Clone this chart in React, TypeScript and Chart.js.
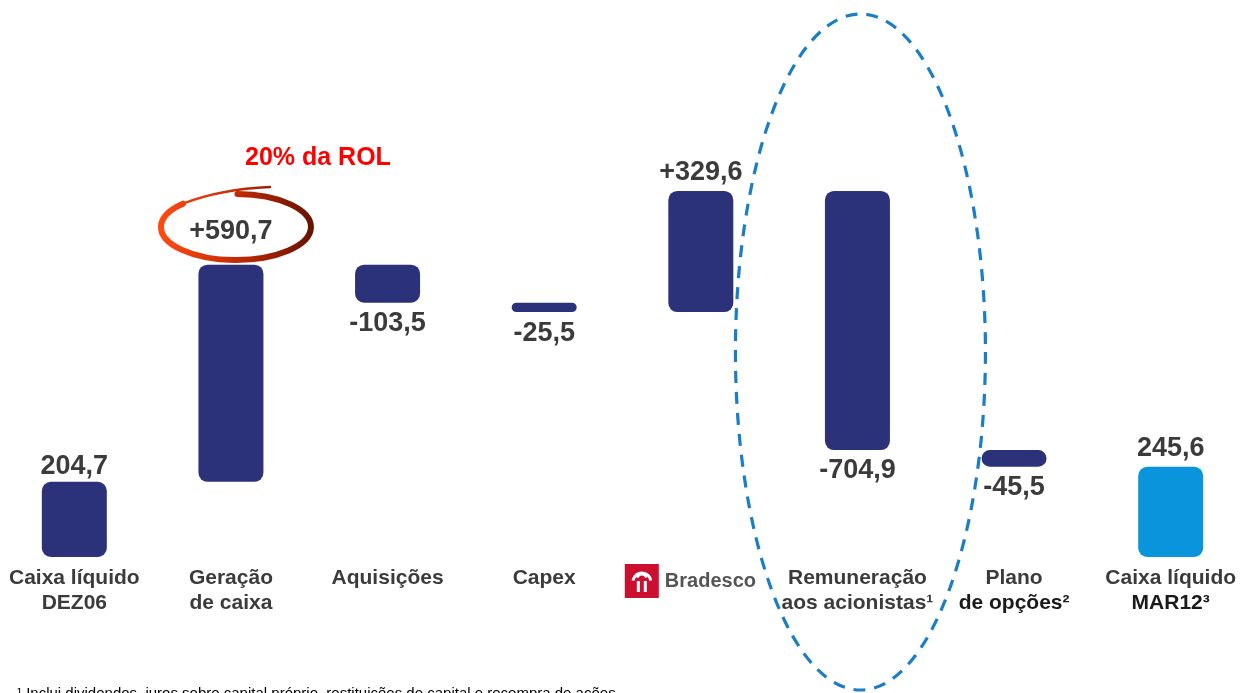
import React, { useEffect, useRef } from 'react';
import { Chart, registerables } from 'chart.js';

Chart.register(...registerables);

// ---- data ----
const categories = [
  'Caixa líquido DEZ06',
  'Geração de caixa',
  'Aquisições',
  'Capex',
  'Bradesco',
  'Remuneração aos acionistas¹',
  'Plano de opções²',
  'Caixa líquido MAR12³',
];
const categoryLines: string[][] = [
  ['Caixa líquido', 'DEZ06'],
  ['Geração', 'de caixa'],
  ['Aquisições'],
  ['Capex'],
  [],
  ['Remuneração', 'aos acionistas¹'],
  ['Plano', 'de opções²'],
  ['Caixa líquido', 'MAR12³'],
];
const startTotal = 204.7;
const changes = [590.7, -103.5, -25.5, 329.6, -704.9, -45.5];
const endTotal = 245.6;
const annotationText = '20% da ROL';
const logoText = 'Bradesco';
const footnote =
  '¹ Inclui dividendos, juros sobre capital próprio, restituições de capital e recompra de ações';

// ---- styles ----
const NAVY = '#2B3279';
const BLUE = '#0A94DB';
const TEXT = '#3B3B3B';
const FONT = '"Liberation Sans", Arial, Helvetica, sans-serif';

function buildRanges(): [number, number][] {
  const ranges: [number, number][] = [[0, startTotal]];
  let run = startTotal;
  for (const c of changes) {
    ranges.push([run, run + c]);
    run += c;
  }
  ranges.push([0, endTotal]);
  return ranges;
}

const values = [startTotal, ...changes, endTotal];
const fmt = (v: number, signed: boolean) =>
  (signed && v > 0 ? '+' : '') + v.toFixed(1).replace('.', ',');

const overlayPlugin = {
  id: 'overlay',
  afterDatasetsDraw(chart: any) {
    const ctx: CanvasRenderingContext2D = chart.ctx;
    const meta = chart.getDatasetMeta(0);
    const els = meta.data;
    const last = values.length - 1;

    ctx.save();
    // value labels
    ctx.font = `bold 27px ${FONT}`;
    ctx.fillStyle = TEXT;
    ctx.textAlign = 'center';
    ctx.textBaseline = 'middle';
    els.forEach((el: any, i: number) => {
      const p = el.getProps(['x', 'y', 'base'], true);
      const top = Math.min(p.y, p.base);
      const bottom = Math.max(p.y, p.base);
      const v = values[i];
      const signed = i !== 0 && i !== last;
      let y;
      if (v >= 0) y = top - (i === 1 ? 33 : i === 0 ? 15 : 18);
      else y = bottom + 21;
      ctx.fillText(fmt(v, signed), p.x, y);
    });

    // category labels
    ctx.font = `bold 21px ${FONT}`;
    els.forEach((el: any, i: number) => {
      const lines = categoryLines[i];
      lines.forEach((ln, j) => {
        ctx.fillStyle = j === 1 && i >= 6 ? '#1A1A1A' : TEXT;
        ctx.fillText(ln, el.x, 578 + j * 25);
      });
    });

    // Bradesco logo
    const bx = els[4].x;
    const sqX = bx - 76;
    const sqY = 564;
    const sq = 34;
    ctx.fillStyle = '#CC0F2E';
    ctx.fillRect(sqX, sqY, sq, sq);
    ctx.strokeStyle = '#FFFFFF';
    ctx.lineWidth = 3;
    ctx.beginPath();
    ctx.arc(sqX + 17, sqY + 18, 9, Math.PI * 1.05, Math.PI * 1.95);
    ctx.stroke();
    ctx.beginPath();
    ctx.arc(sqX + 17, sqY + 15, 5, Math.PI * 1.1, Math.PI * 1.9);
    ctx.stroke();
    ctx.fillStyle = '#FFFFFF';
    ctx.fillRect(sqX + 12, sqY + 17, 3, 11);
    ctx.fillRect(sqX + 19, sqY + 17, 3, 11);
    ctx.font = `bold 20px ${FONT}`;
    ctx.fillStyle = '#545557';
    ctx.textAlign = 'left';
    ctx.fillText(logoText, sqX + sq + 6, sqY + 17);

    // red swoosh around +590,7
    const cx = els[1].x + 5;
    const cy = 227;
    const rx = 75;
    const ry = 33;
    const grad = ctx.createLinearGradient(cx - rx, 0, cx + rx, 0);
    grad.addColorStop(0, '#FF4A12');
    grad.addColorStop(0.5, '#C22C06');
    grad.addColorStop(1, '#6A1200');
    ctx.strokeStyle = grad;
    ctx.lineCap = 'round';
    ctx.lineWidth = 6;
    ctx.beginPath();
    ctx.ellipse(cx, cy, rx, ry, 0, -Math.PI / 2 + 0.02, Math.PI * 1.25);
    ctx.stroke();
    const ex = cx + rx * Math.cos(Math.PI * 1.25);
    const ey = cy + ry * Math.sin(Math.PI * 1.25);
    ctx.lineWidth = 2.5;
    ctx.beginPath();
    ctx.moveTo(ex, ey);
    ctx.quadraticCurveTo(cx - 15, cy - 38, cx + 34, cy - 40);
    ctx.stroke();

    // "20% da ROL"
    ctx.font = `bold 25px ${FONT}`;
    ctx.fillStyle = '#FF0000';
    ctx.textAlign = 'center';
    ctx.fillText(annotationText, els[1].x + 87, 158);

    // dashed ellipse around Remuneração
    ctx.strokeStyle = '#1B7DC6';
    ctx.lineWidth = 3.2;
    ctx.lineCap = 'butt';
    ctx.setLineDash([12, 9]);
    ctx.beginPath();
    ctx.ellipse(els[5].x + 3, 352, 125, 338, 0, 0, Math.PI * 2);
    ctx.stroke();
    ctx.setLineDash([]);

    // footnote
    ctx.font = `15px ${FONT}`;
    ctx.fillStyle = '#000000';
    ctx.textAlign = 'left';
    ctx.textBaseline = 'top';
    ctx.fillText(footnote, 21, 686);

    ctx.restore();
  },
};

export default function App() {
  const ref = useRef<HTMLCanvasElement | null>(null);

  useEffect(() => {
    if (!ref.current) return;
    const ranges = buildRanges();
    const colors = ranges.map((_, i) => (i === ranges.length - 1 ? BLUE : NAVY));
    const chart = new Chart(ref.current, {
      type: 'bar',
      data: {
        labels: categories,
        datasets: [
          {
            data: ranges as any,
            backgroundColor: colors,
            borderRadius: 9,
            borderSkipped: false,
            barPercentage: 0.415,
            categoryPercentage: 1,
          },
        ],
      },
      options: {
        responsive: false,
        animation: false,
        devicePixelRatio: 1,
        layout: { padding: { top: 0, bottom: 136, left: 0, right: 0 } },
        plugins: { legend: { display: false }, tooltip: { enabled: false } },
        scales: {
          x: { display: false },
          y: { display: false, min: 0, max: 1515.6 },
        },
      },
      plugins: [overlayPlugin],
    });
    return () => chart.destroy();
  }, []);

  return (
    <div
      style={{
        position: 'fixed',
        left: 0,
        top: 0,
        width: 1245,
        height: 693,
        overflow: 'hidden',
        background: '#FFFFFF',
      }}
    >
      <canvas
        ref={ref}
        width={1253}
        height={693}
        style={{ position: 'absolute', left: -4, top: 0, width: 1253, height: 693 }}
      />
    </div>
  );
}
